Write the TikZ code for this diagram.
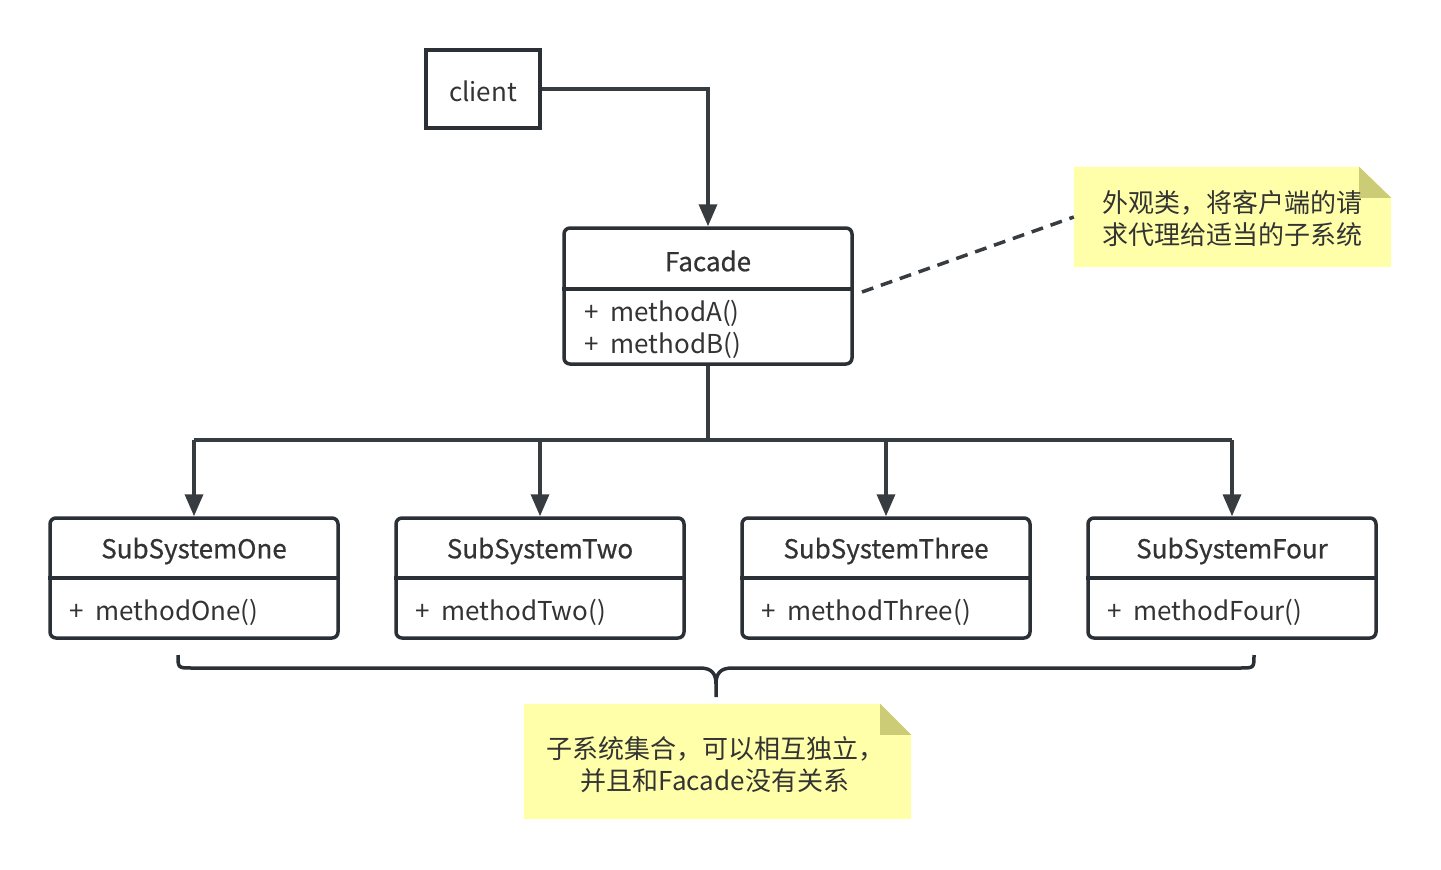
\documentclass[tikz,border=0pt]{standalone}
\usepackage{fontspec}
\setmainfont{Noto Sans CJK SC}
\usetikzlibrary{arrows.meta,backgrounds}
\definecolor{ink}{HTML}{2A3036}
\definecolor{txt}{HTML}{333333}
\definecolor{notefill}{HTML}{FFFFAA}
\definecolor{notefold}{HTML}{CCCC77}
\newcommand{\plusgap}{+\hspace{12pt}}
\tikzset{
  every node/.style={text=txt, font=\fontsize{26}{32}\selectfont},
  cls/.style={draw=ink, line width=3.5pt, rounded corners=6pt, minimum width=288pt, inner sep=0pt},
  clstitle/.style={font=\fontsize{26}{32}\selectfont\addfontfeature{FakeBold=0.6}},
  plainbox/.style={draw=ink, line width=3.5pt, minimum width=114pt, minimum height=78pt, inner sep=0pt},
  conn/.style={draw=ink!85!gray, line width=3.5pt, -{Triangle[length=22pt,width=18pt]}},
  link/.style={draw=ink!85!gray, line width=3.5pt},
  divider/.style={draw=ink, line width=3.5pt},
  notetext/.style={align=left, inner sep=0pt},
  dashlink/.style={draw=ink!85!gray, line width=3.5pt, dash pattern=on 12pt off 8pt},
}
\begin{document}
\begin{tikzpicture}[x=1pt,y=-1pt]
\useasboundingbox (0,0) rectangle (1441,870);

% client
\node[plainbox] (client) at (483,89) {};
\node (clientt) at (483,91) {client};

% Facade
\node[cls, minimum height=136pt] (facade) at (708,296) {};
\node[clstitle] (ftitle) at (708,261) {Facade};
\draw[divider] (facade.west |- 0,289) -- (facade.east |- 0,289);
\node[anchor=west, inner sep=0pt] (fmA) at (584,313) {\plusgap{}methodA()};
\node[anchor=west, inner sep=0pt] (fmB) at (584,345) {\plusgap{}methodB()};

% subsystems
\foreach \n/\x/\t/\m in {s1/194/SubSystemOne/methodOne(), s2/540/SubSystemTwo/methodTwo(), s3/886/SubSystemThree/methodThree(), s4/1232/SubSystemFour/methodFour()}{
  \node[cls, minimum height=120pt] (\n) at (\x,578) {};
  \node[clstitle] (\n t) at (\x,551) {\t};
  \draw[divider] (\n.west) -- (\n.east);
  \node[anchor=west, inner sep=0pt] (\n m) at (\x-125,612) {\plusgap{}\m};
}

% client -> facade
\draw[conn] (client.east) -| (facade.north);

% facade -> subsystems
\coordinate (bus) at (708,440);
\draw[link] (facade.south) -- (bus);
\draw[link] (s1.north |- bus) -- (s4.north |- bus);
\foreach \n in {s1,s2,s3,s4}{
  \draw[conn] (\n.north |- bus) -- (\n.north);
}

% note 1
\node[notetext, minimum width=317pt, minimum height=100pt] (n1) at (1232.5,217) {};
\node[notetext, anchor=west] (n1t) at (1102,219) {外观类，将客户端的请\\求代理给适当的子系统};
\begin{scope}[on background layer]
  \fill[notefill] (n1.north west) -- ([xshift=-32pt]n1.north east) -- ([yshift=-31pt]n1.north east) -- (n1.south east) -- (n1.south west) -- cycle;
  \fill[notefold] ([xshift=-32pt]n1.north east) -- ([yshift=-31pt]n1.north east) -- ([xshift=-32pt,yshift=-31pt]n1.north east) -- cycle;
\end{scope}
\coordinate (dstart) at (862,292);
\draw[dashlink] (dstart) -- (n1.west);

% brace
\coordinate (bl) at (178,655);
\coordinate (br) at (1254,655);
\coordinate (btip) at (716,697);
\draw[ink, line width=3.5pt, line join=round]
  (bl) .. controls (178,668) .. (192,668) -- (700,668)
  .. controls (712,668) and (716,674) .. (716,684) -- (btip);
\draw[ink, line width=3.5pt, line join=round]
  (716,684) .. controls (716,674) and (720,668) .. (732,668) -- (1240,668)
  .. controls (1254,668) .. (br);

% note 2
\node[notetext, minimum width=387pt, minimum height=115pt] (n2) at (717.5,761.5) {};
\node[align=center, inner sep=0pt] (n2t) at (715,765) {子系统集合，可以相互独立，\\并且和Facade没有关系};
\begin{scope}[on background layer]
  \fill[notefill] (n2.north west) -- ([xshift=-31pt]n2.north east) -- ([yshift=-31pt]n2.north east) -- (n2.south east) -- (n2.south west) -- cycle;
  \fill[notefold] ([xshift=-31pt]n2.north east) -- ([yshift=-31pt]n2.north east) -- ([xshift=-31pt,yshift=-31pt]n2.north east) -- cycle;
\end{scope}
\end{tikzpicture}
\end{document}
